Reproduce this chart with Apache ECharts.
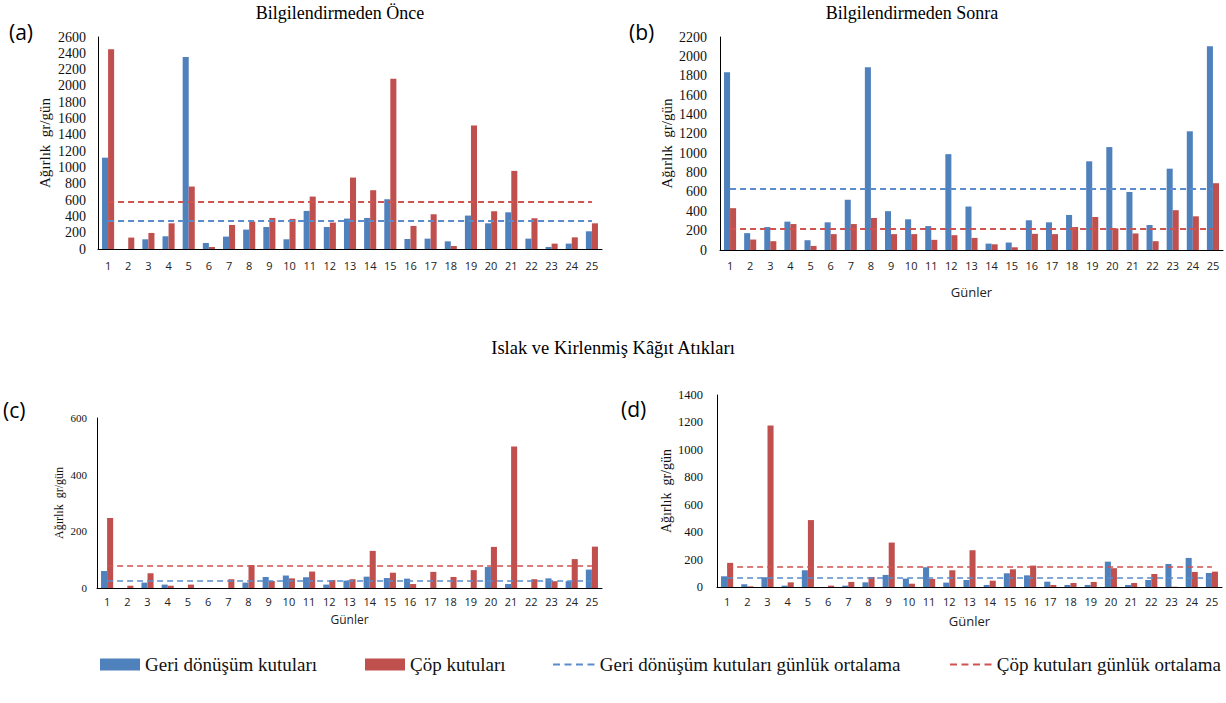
<!DOCTYPE html>
<html><head><meta charset="utf-8">
<script src="https://cdn.jsdelivr.net/npm/echarts@6/dist/echarts.min.js"></script>
<style>html,body{margin:0;padding:0;background:#fff}#c{width:1226px;height:703px}</style>
</head><body><div id="c"></div>
<script>
// ---- data ----
const days = ['1','2','3','4','5','6','7','8','9','10','11','12','13','14','15','16','17','18','19','20','21','22','23','24','25'];
const seriesNames = ['Geri dönüşüm kutuları','Çöp kutuları','Geri dönüşüm kutuları günlük ortalama','Çöp kutuları günlük ortalama'];
// (a) Bilgilendirmeden Önce
const aRecycle = [1120,0,119,156,2355,74,152,238,270,119,467,270,373,381,610,123,127,94,410,315,450,127,25,66,217];
const aTrash   = [2450,140,197,315,766,25,295,336,381,369,643,324,876,721,2088,283,426,37,1515,463,958,377,66,143,315];
const aMeans   = [348,581];
// (b) Bilgilendirmeden Sonra
const bRecycle = [1836,174,237,293,101,286,519,1888,401,317,247,990,449,66,77,307,286,362,916,1063,599,258,840,1226,2104];
const bTrash   = [432,108,91,268,42,164,268,331,164,164,105,153,125,59,28,167,164,237,341,223,171,91,411,348,690];
const bMeans   = [634,216];
// (c) Islak ve Kirlenmiş Kâğıt Atıkları - önce
const cRecycle = [60,0,19,12,0,0,0,19,39,44,38,12,26,40,35,33,0,0,0,74,14,0,34,24,65];
const cTrash   = [247,8,52,8,12,0,31,81,25,34,58,28,31,131,54,14,57,39,63,145,499,31,24,102,146];
const cMeans   = [24,78];
// (d) Islak ve Kirlenmiş Kâğıt Atıkları - sonra
const dRecycle = [78,20,71,10,122,0,10,34,88,61,144,32,51,15,100,85,39,15,15,185,15,51,168,212,102];
const dTrash   = [176,5,1178,34,488,10,37,73,324,24,59,122,268,46,129,156,15,29,37,137,29,95,2,110,112];
const dMeans   = [68,146];
const yMax = [2600,2200,600,1400];

// ---- styling ----
const BLUE = '#4F81BD', RED = '#C0504D', BLUE_D = '#5A8CCB', RED_D = '#D0534F';
const SERIF = 'Liberation Serif';
const SANS = 'Open Sans';

const panels = [
  {grid:{left:98,top:37,width:504,height:212}, rec:aRecycle, tr:aTrash, means:aMeans, max:yMax[0], yFont:14, yMargin:12, nameFont:15, nameGap:46, xFont:11, xMargin:11, xName:'', dashW:2},
  {grid:{left:720,top:37,width:503,height:213}, rec:bRecycle, tr:bTrash, means:bMeans, max:yMax[1], yFont:14, yMargin:13, nameFont:15, nameGap:46, xFont:11, xMargin:10, xName:'Günler', xNameGap:35, xNameFont:13, dashW:2},
  {grid:{left:97,top:418,width:505,height:170}, rec:cRecycle, tr:cTrash, means:cMeans, max:yMax[2], yFont:11, yMargin:10, nameFont:12, nameGap:32, xFont:11, xMargin:8, xName:'Günler', xNameGap:25, xNameFont:12, dashW:1.5},
  {grid:{left:717,top:395,width:505,height:192}, rec:dRecycle, tr:dTrash, means:dMeans, max:yMax[3], yFont:12.5, yMargin:14, nameFont:14, nameGap:44, xFont:11, xMargin:9, xName:'Günler', xNameGap:27, xNameFont:13, dashW:1.5}
];

const grid = [], xAxis = [], yAxis = [], series = [];
panels.forEach((p, i) => {
  grid.push(p.grid);
  xAxis.push({
    type:'category', gridIndex:i, data:days,
    axisLine:{show:true, lineStyle:{color:'#000', width:1}}, axisTick:{show:false},
    axisLabel:{color:'#222', fontSize:p.xFont, fontFamily:SANS, margin:p.xMargin, interval:0},
    name:p.xName, nameLocation:'middle', nameGap:p.xNameGap || 0,
    nameTextStyle:{color:'#222', fontSize:p.xNameFont || 12, fontFamily:SANS}
  });
  yAxis.push({
    type:'value', gridIndex:i, min:0, max:p.max, interval:200,
    axisLine:{show:true, lineStyle:{color:'#000', width:1}}, axisTick:{show:false},
    splitLine:{show:false},
    axisLabel:{color:'#111', fontSize:p.yFont, fontFamily:SERIF, margin:p.yMargin, formatter:v => String(v)},
    name:'Ağırlık  gr/gün', nameLocation:'middle', nameRotate:90, nameGap:p.nameGap,
    nameTextStyle:{color:'#111', fontSize:p.nameFont, fontFamily:SERIF}
  });
  series.push({
    name:seriesNames[0], type:'bar', xAxisIndex:i, yAxisIndex:i, data:p.rec,
    barGap:'0%', barCategoryGap:'40%', itemStyle:{color:BLUE}
  });
  series.push({
    name:seriesNames[1], type:'bar', xAxisIndex:i, yAxisIndex:i, data:p.tr,
    barGap:'0%', barCategoryGap:'40%', itemStyle:{color:RED}
  });
  [0,1].forEach(k => {
    const col = k === 0 ? BLUE_D : RED_D;
    series.push({
      name:seriesNames[2+k], type:'line', xAxisIndex:i, yAxisIndex:i, data:[],
      symbol:'none', itemStyle:{color:col}, lineStyle:{color:col, type:'dashed'},
      z:5,
      markLine:{
        silent:true, symbol:['none','none'], label:{show:false},
        lineStyle:{color:col, type:[6,4], width:p.dashW},
        emphasis:{disabled:true},
        data:[[{coord:[days[0], p.means[k]]},{coord:[days[days.length-1], p.means[k]]}]]
      }
    });
  });
});

const dashPath = 'path://M0,0h7v2h-7z M11.5,0h7v2h-7z M23,0h7v2h-7z M34.5,0h7v2h-7z';
const legendBase = {orient:'horizontal', selectedMode:false, textStyle:{fontSize:19, fontFamily:SERIF, color:'#111'}};
const legend = [
  Object.assign({}, legendBase, {left:95, top:650, itemWidth:40, itemHeight:12, data:[{name:seriesNames[0], icon:'rect'}]}),
  Object.assign({}, legendBase, {left:360, top:650, itemWidth:40, itemHeight:12, data:[{name:seriesNames[1], icon:'rect'}]}),
  Object.assign({}, legendBase, {left:548, top:650, itemWidth:42, itemHeight:2, data:[{name:seriesNames[2], icon:dashPath}]}),
  Object.assign({}, legendBase, {left:945, top:650, itemWidth:42, itemHeight:2, data:[{name:seriesNames[3], icon:dashPath}]})
];

function txt(x, y, s, size, family, align) {
  return {type:'text', x:x, y:y, silent:true,
    style:{text:s, fontSize:size, fontFamily:family, fill:'#000', align:align || 'left', verticalAlign:'middle'}};
}
const graphic = [
  txt(340, 13, 'Bilgilendirmeden Önce', 18, SERIF, 'center'),
  txt(912, 13, 'Bilgilendirmeden Sonra', 18, SERIF, 'center'),
  txt(613, 348, 'Islak ve Kirlenmiş Kâğıt Atıkları', 18.5, SERIF, 'center'),
  txt(9, 32, '(a)', 21, SANS),
  txt(629, 32, '(b)', 21, SANS),
  txt(3, 410, '(c)', 21, SANS),
  txt(621, 409, '(d)', 21, SANS)
];

const chart = echarts.init(document.getElementById('c'), null, {renderer:'svg'});
chart.setOption({animation:false, backgroundColor:'#fff', textStyle:{fontFamily:SERIF}, grid, xAxis, yAxis, series, legend, graphic});
</script></body></html>
